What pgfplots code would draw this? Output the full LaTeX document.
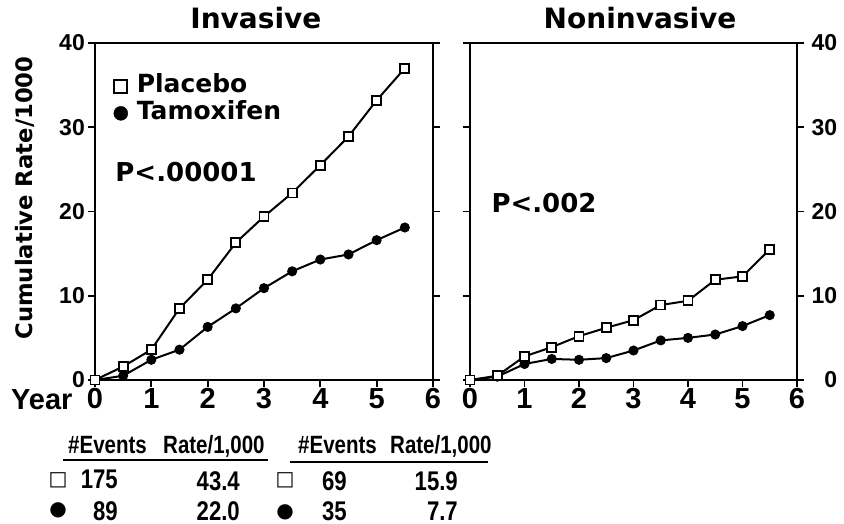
\documentclass[border=0pt]{standalone}
\usepackage{pgfplots}
\pgfplotsset{compat=1.18}
\usepackage{fontspec}
\setmainfont{Liberation Sans}
\newfontfamily\djv{DejaVu Sans}
\newfontfamily\cond[FakeStretch=0.82]{Liberation Sans}
\newcommand\fs[1]{\fontsize{#1}{#1}\selectfont}
\begin{document}
\begin{tikzpicture}
\useasboundingbox (0pt,0pt) rectangle (844pt,-524pt);
\pgfplotsset{
  panel/.style={
    scale only axis, height=337pt,
    xmin=0, xmax=6, ymin=0, ymax=40,
    xtick={0,1,2,3,4,5,6}, ytick={0,10,20,30,40},
    xtick pos=left, ytick pos=both,
    tick align=outside, major tick length=7pt,
    axis line style={line width=2.2pt},
    every tick/.style={black, line width=1.8pt},
    xticklabel style={font=\bfseries\fs{29}, inner sep=1pt},
    yticklabel style={font=\bfseries\fs{23}, inner sep=3pt},
    /pgf/number format/assume math mode=true,
    clip=false,
    title style={font=\djv\bfseries\fs{28}, anchor=base, yshift=8pt},
  },
  pla/.style={black, line width=2pt, mark=square*, mark options={fill=white, line width=1.8pt}, mark size=4.5pt},
  tam/.style={black, line width=2pt, mark=*, mark size=4pt},
}
% ---------------- Invasive ----------------
\begin{axis}[panel, width=338pt, at={(95pt,-380pt)}, anchor=south west,
  yticklabel pos=left,
  title={Invasive}, title style={at={(0.476,1)}},
  ylabel={Cumulative Rate/1000},
  ylabel style={font=\djv\bfseries\fs{22.7}, at={(axis description cs:-0.207,0.54)}, anchor=center},
  xlabel={Year},
  xlabel style={font=\bfseries\fs{29}, at={(axis description cs:-0.066,-0.089)}, anchor=base east, inner sep=0pt},
  legend style={at={(axis description cs:0.055,0.912)}, anchor=north west, draw=none, fill=none,
    font=\djv\bfseries\fs{25}, inner sep=0pt, nodes={inner sep=2pt, text height=18pt, text depth=5pt},
    /tikz/every odd column/.append style={column sep=7pt}},
  legend cell align=left,
  legend image code/.code={\draw[#1] plot coordinates {(0.25cm,0cm)};},
]
\addplot[tam, forget plot] coordinates {(0,0)(0.5,0.5)(1,2.4)(1.5,3.6)(2,6.3)(2.5,8.5)(3,10.9)(3.5,12.9)(4,14.3)(4.5,14.9)(5,16.6)(5.5,18.1)};
\addplot[pla, forget plot] coordinates {(0,0)(0.5,1.6)(1,3.6)(1.5,8.5)(2,11.9)(2.5,16.3)(3,19.4)(3.5,22.2)(4,25.5)(4.5,28.9)(5,33.2)(5.5,37.0)};
\addlegendimage{black, mark=square*, mark options={fill=white, line width=2pt}, mark size=6.5pt}
\addlegendentry{Placebo}
\addlegendimage{black, mark=*, mark size=7pt}
\addlegendentry{Tamoxifen}
\node[anchor=west, font=\djv\bfseries\fs{26}] at (axis cs:0.3,24.7) {P<.00001};
\end{axis}
% ---------------- Noninvasive ----------------
\begin{axis}[panel, width=327pt, at={(470pt,-380pt)}, anchor=south west,
  yticklabel pos=right,
  yticklabel style={anchor=west, text width=30pt, align=right},
  title={Noninvasive}, title style={at={(0.52,1)}},
]
\addplot[tam] coordinates {(0,0)(0.5,0.4)(1,1.9)(1.5,2.5)(2,2.4)(2.5,2.6)(3,3.5)(3.5,4.7)(4,5.0)(4.5,5.4)(5,6.4)(5.5,7.7)};
\addplot[pla] coordinates {(0,0)(0.5,0.5)(1,2.8)(1.5,3.9)(2,5.2)(2.5,6.2)(3,7.1)(3.5,8.9)(4,9.4)(4.5,11.9)(5,12.3)(5.5,15.5)};
\node[anchor=west, font=\djv\bfseries\fs{26}] at (axis cs:0.33,21.0) {P<.002};
\end{axis}
% ---------------- tables ----------------
\begin{scope}[every node/.style={inner sep=0pt}]
\node[anchor=base west, font=\cond\bfseries\fs{25}] at (68pt,-453pt) {\#Events};
\node[anchor=base west, font=\cond\bfseries\fs{25}] at (163pt,-453pt) {Rate/1,000};
\draw[line width=2pt] (63pt,-460pt) -- (268pt,-460pt);
\node[font=\djv\bfseries\fs{20}] at (58pt,-480pt) {□};
\node[anchor=base east, font=\cond\bfseries\fs{27}] at (118pt,-488pt) {175};
\node[anchor=base east, font=\cond\bfseries\fs{27}] at (240pt,-490pt) {43.4};
\node[font=\djv\fs{20}] at (58pt,-510pt) {●};
\node[anchor=base east, font=\cond\bfseries\fs{27}] at (118pt,-520pt) {89};
\node[anchor=base east, font=\cond\bfseries\fs{27}] at (240pt,-520pt) {22.0};
\node[anchor=base west, font=\cond\bfseries\fs{25}] at (298pt,-453pt) {\#Events};
\node[anchor=base west, font=\cond\bfseries\fs{25}] at (390pt,-453pt) {Rate/1,000};
\draw[line width=2pt] (290pt,-462pt) -- (488pt,-462pt);
\node[font=\djv\bfseries\fs{20}] at (285pt,-480pt) {□};
\node[anchor=base east, font=\cond\bfseries\fs{27}] at (347pt,-490pt) {69};
\node[anchor=base east, font=\cond\bfseries\fs{27}] at (458pt,-490pt) {15.9};
\node[font=\djv\fs{20}] at (285pt,-512pt) {●};
\node[anchor=base east, font=\cond\bfseries\fs{27}] at (347pt,-520pt) {35};
\node[anchor=base east, font=\cond\bfseries\fs{27}] at (458pt,-520pt) {7.7};
\end{scope}
\end{tikzpicture}
\end{document}
